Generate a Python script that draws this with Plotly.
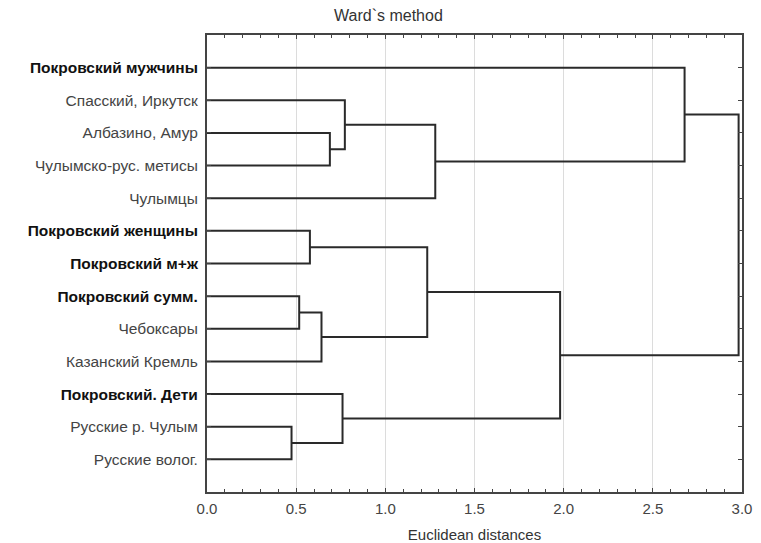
import plotly.graph_objects as go

# ---- data ----
leaf_labels = [
    "Покровский мужчины", "Спасский, Иркутск", "Албазино, Амур",
    "Чулымско-рус. метисы", "Чулымцы", "Покровский женщины",
    "Покровский м+ж", "Покровский сумм.", "Чебоксары",
    "Казанский Кремль", "Покровский. Дети", "Русские р. Чулым",
    "Русские волог.",
]
leaf_bold = [True, False, False, False, False, True, True, True,
             False, False, True, False, False]
# merges: node ids 0..12 are leaves, new clusters get ids 13, 14, ...
merge_a = [2, 1, 14, 0, 5, 7, 18, 17, 11, 10, 20, 16]
merge_b = [3, 13, 4, 15, 6, 8, 9, 19, 12, 21, 22, 23]
merge_height = [0.689, 0.773, 1.280, 2.678, 0.577, 0.517, 0.642, 1.235,
                0.474, 0.760, 1.980, 2.981]
x_ticks = [0.0, 0.5, 1.0, 1.5, 2.0, 2.5, 3.0]

# ---- build dendrogram segments ----
n = len(leaf_labels)
ypos = {i: i + 1 for i in range(n)}
hpos = {i: 0.0 for i in range(n)}
xs, ys = [], []
for k, (a, b, h) in enumerate(zip(merge_a, merge_b, merge_height)):
    node = n + k
    xs += [hpos[a], h, h, hpos[b], None]
    ys += [ypos[a], ypos[a], ypos[b], ypos[b], None]
    ypos[node] = (ypos[a] + ypos[b]) / 2
    hpos[node] = h

fig = go.Figure()
fig.add_trace(go.Scatter(x=xs, y=ys, mode="lines",
                         line=dict(color="#2a2a2a", width=2),
                         hoverinfo="skip", showlegend=False))

ticktext = []
for lab, b in zip(leaf_labels, leaf_bold):
    if b:
        ticktext.append(f"<b><span style='color:#111'>{lab}</span></b>")
    else:
        ticktext.append(f"<span style='color:#444'>{lab}</span>")

font_family = "Liberation Sans, Arial, sans-serif"
fig.update_layout(
    width=761, height=543,
    margin=dict(l=207, r=19, t=35, b=51),
    paper_bgcolor="white", plot_bgcolor="white",
    font=dict(family=font_family, size=15, color="#333"),
    showlegend=False,
)
fig.update_xaxes(
    range=[0, 3], tickvals=x_ticks, ticktext=[f"{v:.1f}" for v in x_ticks],
    showgrid=True, gridcolor="#dcdcdc", gridwidth=1,
    zeroline=False, automargin=False,
    showline=True, linecolor="#444", linewidth=2, mirror="allticks",
    ticks="inside", ticklen=4, tickcolor="#444", tickwidth=1,
    minor=dict(dtick=0.1, ticks="inside", ticklen=3, tickcolor="#444",
               showgrid=False),
    tickfont=dict(size=15, color="#444"),
    ticklabelstandoff=2,
    title=dict(text="Euclidean distances", font=dict(size=15, color="#333"),
               standoff=17),
)
fig.update_yaxes(
    range=[14, 0], tickvals=list(range(1, n + 1)), ticktext=ticktext,
    showgrid=False, zeroline=False, automargin=False,
    showline=True, linecolor="#444", linewidth=2, mirror="allticks",
    ticks="inside", ticklen=4, tickcolor="#444",
    tickfont=dict(size=15.5),
    ticklabelstandoff=4,
)
fig.add_annotation(text="Ward`s method", xref="paper", yref="paper",
                   x=0.34, y=1, yshift=20, xanchor="center", yanchor="middle",
                   showarrow=False, font=dict(size=16, color="#333"))

fig.write_html("out.html")
